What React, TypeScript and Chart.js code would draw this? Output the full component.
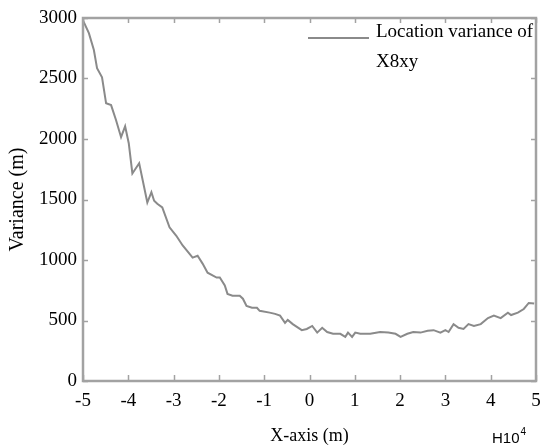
import React, { useEffect, useRef } from "react";
import { Chart, registerables } from "chart.js";

Chart.register(...registerables);

// ---- data ----
const xPositions = [
  -5.0, -4.87, -4.76, -4.69, -4.58, -4.49, -4.38, -4.27, -4.16, -4.07, -3.99, -3.91,
  -3.76, -3.58, -3.49, -3.43, -3.36, -3.25, -3.09, -2.94, -2.8, -2.58, -2.47, -2.36,
  -2.25, -2.05, -1.98, -1.87, -1.81, -1.7, -1.54, -1.47, -1.39, -1.27, -1.16, -1.1,
  -0.88, -0.76, -0.65, -0.54, -0.48, -0.37, -0.17, -0.06, 0.06, 0.17, 0.28, 0.39,
  0.52, 0.68, 0.79, 0.85, 0.94, 1.01, 1.12, 1.34, 1.56, 1.74, 1.9, 2.01, 2.16, 2.29,
  2.45, 2.61, 2.74, 2.89, 3.0, 3.07, 3.18, 3.29, 3.4, 3.51, 3.63, 3.78, 3.94, 4.07,
  4.22, 4.38, 4.45, 4.6, 4.73, 4.84, 4.96,
];
const varianceValues = [
  2980, 2875, 2735, 2585, 2510, 2295, 2280, 2155, 2015, 2105, 1965, 1715,
  1800, 1475, 1560, 1490, 1465, 1435, 1270, 1200, 1120, 1020, 1035, 970,
  895, 855, 855, 790, 720, 705, 705, 680, 620, 605, 605, 580,
  565, 555, 540, 480, 505, 470, 420, 430, 455, 400, 440, 405,
  390, 390, 365, 400, 365, 400, 390, 390, 405, 400, 390, 365, 390, 405,
  400, 415, 420, 400, 420, 405, 470, 440, 430, 470, 455, 470, 520, 540,
  520, 565, 545, 565, 595, 645, 640,
];
const xTickValues = [-5, -4, -3, -2, -1, 0, 1, 2, 3, 4, 5];
const yTickValues = [0, 500, 1000, 1500, 2000, 2500, 3000];
const legendLines = ["Location variance of", "X8xy"];
const xAxisTitle = "X-axis (m)";
const yAxisTitle = "Variance (m)";
const xScaleBase = "H10";
const xScaleExponent = "4";

const SERIF = "'Liberation Serif', 'Times New Roman', serif";
const SANS = "'Liberation Sans', Arial, sans-serif";
const FRAME_COLOR = "#a2a2a2";
const LINE_COLOR = "#8a8a8a";

const frameAndTicksPlugin = {
  id: "frameAndTicks",
  afterDatasetsDraw(chart: any) {
    const { ctx, chartArea } = chart;
    const { left, right, top, bottom } = chartArea;
    const xs = chart.scales.x;
    const ys = chart.scales.y;
    ctx.save();
    ctx.strokeStyle = FRAME_COLOR;
    ctx.lineWidth = 1.5;
    ctx.beginPath();
    xTickValues.forEach((v) => {
      const px = Math.round(xs.getPixelForValue(v)) + 0.5;
      ctx.moveTo(px, bottom);
      ctx.lineTo(px, bottom - 6);
      ctx.moveTo(px, top);
      ctx.lineTo(px, top + 5);
    });
    yTickValues.forEach((v) => {
      const py = Math.round(ys.getPixelForValue(v)) + 0.5;
      ctx.moveTo(left, py);
      ctx.lineTo(left + 5, py);
      ctx.moveTo(right, py);
      ctx.lineTo(right - 5, py);
    });
    ctx.stroke();
    ctx.lineWidth = 2.5;
    ctx.strokeRect(left, top, right - left, bottom - top);
    ctx.restore();
  },
  afterDraw(chart: any) {
    const { ctx, chartArea } = chart;
    const { right, bottom } = chartArea;
    ctx.save();
    // legend
    const lx0 = right - 228;
    const lx1 = right - 167;
    const ly = chartArea.top + 20;
    ctx.strokeStyle = LINE_COLOR;
    ctx.lineWidth = 2;
    ctx.beginPath();
    ctx.moveTo(lx0, ly);
    ctx.lineTo(lx1, ly);
    ctx.stroke();
    ctx.fillStyle = "#000";
    ctx.font = `19px ${SERIF}`;
    ctx.textBaseline = "alphabetic";
    ctx.textAlign = "left";
    legendLines.forEach((t, i) => {
      ctx.fillText(t, right - 160, chartArea.top + 19 + i * 30);
    });
    // scale multiplier note
    ctx.font = `15px ${SANS}`;
    ctx.fillText(xScaleBase, right - 44, bottom + 62);
    const w = ctx.measureText(xScaleBase).width;
    ctx.font = `10px ${SANS}`;
    ctx.fillText(xScaleExponent, right - 44 + w + 1, bottom + 54);
    ctx.restore();
  },
};

export default function App() {
  const canvasRef = useRef<HTMLCanvasElement | null>(null);

  useEffect(() => {
    const canvas = canvasRef.current;
    if (!canvas) return;
    const points = xPositions.map((x, i) => ({ x, y: varianceValues[i] }));
    const chart = new Chart(canvas, {
      type: "line",
      data: {
        datasets: [
          {
            label: legendLines.join(" "),
            data: points,
            borderColor: LINE_COLOR,
            backgroundColor: LINE_COLOR,
            borderWidth: 2,
            pointRadius: 0,
            tension: 0,
            fill: false,
          },
        ],
      },
      options: {
        responsive: false,
        animation: false,
        devicePixelRatio: 1,
        layout: { padding: { top: 18, right: 5, left: 0, bottom: 0 } },
        plugins: {
          legend: { display: false },
          tooltip: { enabled: false },
        },
        scales: {
          x: {
            type: "linear",
            min: -5,
            max: 5,
            afterBuildTicks: (scale: any) => {
              scale.ticks = xTickValues.map((v) => ({ value: v }));
            },
            afterFit: (scale: any) => {
              scale.height = 66;
              scale.paddingLeft = 0;
              scale.paddingRight = 0;
            },
            grid: { display: false, drawTicks: false },
            border: { display: false },
            ticks: {
              color: "#000",
              font: { family: SERIF, size: 19 },
              padding: 9,
              maxRotation: 0,
              autoSkip: false,
              callback: (v: any) => String(v),
            },
            title: {
              display: true,
              text: xAxisTitle,
              color: "#000",
              font: { family: SERIF, size: 18 },
              padding: { top: 0, bottom: 0 },
            },
          },
          y: {
            type: "linear",
            min: 0,
            max: 3000,
            afterBuildTicks: (scale: any) => {
              scale.ticks = yTickValues.map((v) => ({ value: v }));
            },
            afterFit: (scale: any) => {
              scale.width = 83;
              scale.paddingTop = 0;
              scale.paddingBottom = 0;
            },
            grid: { display: false, drawTicks: false },
            border: { display: false },
            ticks: {
              color: "#000",
              font: { family: SERIF, size: 19 },
              padding: 6,
              autoSkip: false,
              callback: (v: any) => String(v),
            },
            title: {
              display: true,
              text: yAxisTitle,
              color: "#000",
              font: { family: SERIF, size: 20 },
              padding: { top: 6, bottom: 0 },
            },
          },
        },
      },
      plugins: [frameAndTicksPlugin],
    });
    return () => chart.destroy();
  }, []);

  return (
    <div
      style={{
        position: "absolute",
        left: 0,
        top: 0,
        width: 541,
        height: 447,
        background: "#fff",
      }}
    >
      <canvas ref={canvasRef} width={541} height={447} />
    </div>
  );
}
